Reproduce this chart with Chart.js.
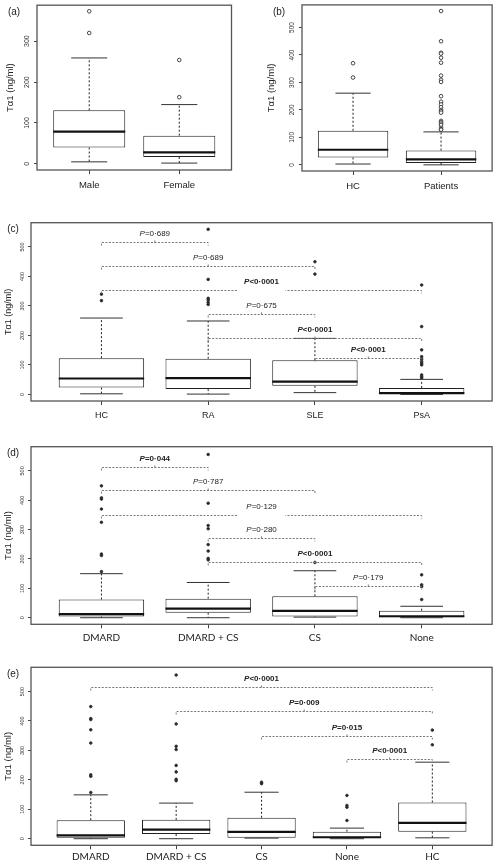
<!DOCTYPE html>
<html lang="en">
<head>
<meta charset="UTF-8">
<title>Tα1 (ng/ml) box plots</title>
<script src="https://cdn.jsdelivr.net/npm/chart.js"></script>
<style>
  body { margin: 0; background: #fff; width: 497px; height: 866px; position: relative; overflow: hidden; }
  canvas { position: absolute; }
</style>
</head>
<body>
<canvas id="chartA" width="245" height="205" style="left:0;top:0"></canvas>
<canvas id="chartB" width="249" height="205" style="left:248px;top:0"></canvas>
<canvas id="chartC" width="497" height="220" style="left:0;top:205px"></canvas>
<canvas id="chartD" width="497" height="220" style="left:0;top:425px"></canvas>
<canvas id="chartE" width="497" height="221" style="left:0;top:645px"></canvas>

<script>
const yTitle = 'Tα1 (ng/ml)';

// (a) by sex
const sexGroups = ['Male', 'Female'];
const sexQ1 = [40, 17];
const sexMedian = [79, 28];
const sexQ3 = [131, 69];
const sexLow = [5, 2];
const sexHigh = [259, 145];
const sexOutliers = [[373, 320], [254, 163]];

// (b) controls vs patients
const hcGroups = ['HC', 'Patients'];
const hcQ1 = [27, 7];
const hcMedian = [55, 20];
const hcQ3 = [124, 52];
const hcLow = [3, 0];
const hcHigh = [261, 120];
const hcOutliers = [
  [370, 318],
  [560, 450, 408, 405, 390, 372, 325, 310, 302, 250, 230, 220, 210, 200, 195, 190, 160, 155, 150, 145, 135, 130, 128]
];

// (c) by disease
const diseaseGroups = ['HC', 'RA', 'SLE', 'PsA'];
const diseaseQ1 = [23, 18, 29, 1];
const diseaseMedian = [54, 55, 43, 4];
const diseaseQ3 = [123, 121, 116, 22];
const diseaseLow = [2, 1, 6, 0];
const diseaseHigh = [259, 249, 190, 51];
const diseaseOutliers = [
  [340, 318],
  [560, 390, 326, 320, 312, 305],
  [450, 408],
  [371, 230, 151, 128, 120, 112, 106, 100, 66, 60, 56]
];
const diseaseTests = [
  { from: 0, to: 1, y: 516, p: '=0·689', bold: false },
  { from: 0, to: 2, y: 434, p: '=0·689', bold: false },
  { from: 0, to: 3, y: 353, p: '<0·0001', bold: true, gap: true },
  { from: 1, to: 2, y: 273, p: '=0·675', bold: false },
  { from: 1, to: 3, y: 190, p: '<0·0001', bold: true },
  { from: 2, to: 3, y: 122, p: '<0·0001', bold: true }
];

// (d) by treatment
const treatGroups = ['DMARD', 'DMARD + CS', 'CS', 'None'];
const treatQ1 = [4, 17, 4, 2];
const treatMedian = [12, 31, 23, 5];
const treatQ3 = [62, 65, 73, 24];
const treatLow = [0, 0, 2, 0];
const treatHigh = [150, 120, 160, 39];
const treatOutliers = [
  [449, 408, 404, 370, 325, 217, 212, 157],
  [556, 390, 314, 303, 249, 227, 202, 197],
  [188],
  [146, 112, 106, 62]
];
const treatTests = [
  { from: 0, to: 1, y: 513, p: '=0·044', bold: true },
  { from: 0, to: 2, y: 435, p: '=0·787', bold: false },
  { from: 0, to: 3, y: 350, p: '=0·129', bold: false, gap: true },
  { from: 1, to: 2, y: 272, p: '=0·280', bold: false },
  { from: 1, to: 3, y: 190, p: '<0·0001', bold: true },
  { from: 2, to: 3, y: 109, p: '=0·179', bold: false }
];

// (e) treatment vs HC
const vsGroups = ['DMARD', 'DMARD + CS', 'CS', 'None', 'HC'];
const vsQ1 = [3, 16, 3, 3, 24];
const vsMedian = [11, 31, 23, 5, 54];
const vsQ3 = [63, 64, 71, 24, 123];
const vsLow = [0, 0, 2, 0, 3];
const vsHigh = [149, 121, 158, 36, 260];
const vsOutliers = [
  [449, 408, 405, 370, 325, 217, 212, 157],
  [556, 390, 314, 303, 249, 227, 202, 197],
  [192, 187],
  [147, 113, 107, 62],
  [369, 319]
];
const vsTests = [
  { from: 0, to: 4, y: 516, p: '<0·0001', bold: true },
  { from: 1, to: 4, y: 435, p: '=0·009', bold: true },
  { from: 2, to: 4, y: 350, p: '=0·015', bold: true },
  { from: 3, to: 4, y: 271, p: '<0·0001', bold: true }
];

const smallTicks = [0, 100, 200, 300];
const bigTicks = [0, 100, 200, 300, 400, 500];

Chart.defaults.font.family = '"Liberation Sans", Arial, sans-serif';
Chart.defaults.color = '#222';

function drawP(ctx, rest, cx, cy, bold) {
  const b = bold ? 'bold ' : '';
  const fItal = b + 'italic 8px "Liberation Sans"';
  const fNorm = b + '8px "Liberation Sans"';
  ctx.font = fItal;
  const w1 = ctx.measureText('P').width;
  ctx.font = fNorm;
  const w2 = ctx.measureText(rest).width;
  const x0 = cx - (w1 + w2) / 2;
  ctx.textAlign = 'left';
  ctx.textBaseline = 'middle';
  ctx.fillStyle = '#222';
  ctx.font = fItal;
  ctx.fillText('P', x0, cy);
  ctx.font = fNorm;
  ctx.fillText(rest, x0 + w1, cy);
  return w1 + w2;
}

const boxExtras = {
  id: 'boxExtras',
  afterDatasetsDraw(chart, args, o) {
    const { ctx } = chart;
    const xs = chart.scales.x, ys = chart.scales.y;
    const bars = chart.getDatasetMeta(0).data;
    ctx.save();
    o.median.forEach((m, i) => {
      const cx = xs.getPixelForValue(i + 1);
      const half = bars[i].width / 2;
      const yQ1 = ys.getPixelForValue(o.q1[i]);
      const yQ3 = ys.getPixelForValue(o.q3[i]);
      const yLo = ys.getPixelForValue(o.low[i]);
      const yHi = ys.getPixelForValue(o.high[i]);
      // whiskers
      ctx.strokeStyle = '#222';
      ctx.lineWidth = 1;
      ctx.setLineDash([2, 2]);
      ctx.beginPath();
      ctx.moveTo(cx, yQ3); ctx.lineTo(cx, yHi);
      ctx.moveTo(cx, yQ1); ctx.lineTo(cx, yLo);
      ctx.stroke();
      ctx.setLineDash([]);
      ctx.strokeStyle = '#333';
      ctx.beginPath();
      ctx.moveTo(cx - half / 2, yHi); ctx.lineTo(cx + half / 2, yHi);
      ctx.moveTo(cx - half / 2, yLo); ctx.lineTo(cx + half / 2, yLo);
      ctx.stroke();
      // median
      ctx.strokeStyle = '#111';
      ctx.lineWidth = 2.2;
      const yM = ys.getPixelForValue(m);
      ctx.beginPath();
      ctx.moveTo(cx - half, yM); ctx.lineTo(cx + half, yM);
      ctx.stroke();
    });
    ctx.restore();
  },
  afterDraw(chart, args, o) {
    const { ctx, chartArea: a } = chart;
    const xs = chart.scales.x, ys = chart.scales.y;
    ctx.save();
    // significance brackets
    (o.tests || []).forEach(t => {
      const x1 = xs.getPixelForValue(t.from + 1);
      const x2 = xs.getPixelForValue(t.to + 1);
      const yy = Math.round(ys.getPixelForValue(t.y)) + 0.5;
      const mx = (x1 + x2) / 2;
      ctx.strokeStyle = '#777';
      ctx.lineWidth = 1;
      ctx.setLineDash([2, 1.5]);
      ctx.beginPath();
      ctx.moveTo(x1, yy + 3); ctx.lineTo(x1, yy); ctx.lineTo(x2, yy); ctx.lineTo(x2, yy + 3);
      ctx.moveTo(mx, yy); ctx.lineTo(mx, yy - 2);
      ctx.stroke();
      ctx.setLineDash([]);
      if (t.gap) {
        ctx.fillStyle = '#fff';
        ctx.fillRect(mx - 24, yy - 2.5, 48, 4);
      }
      drawP(ctx, t.p, mx, yy - 8.5, t.bold);
    });
    // frame
    ctx.strokeStyle = '#555';
    ctx.lineWidth = 1.3;
    ctx.strokeRect(a.left, a.top, a.right - a.left, a.bottom - a.top);
    // panel letter
    ctx.fillStyle = '#222';
    ctx.font = '10px "Liberation Sans"';
    ctx.textAlign = 'center';
    ctx.textBaseline = 'middle';
    ctx.fillText(o.letter, Math.max(13, a.left - 23), a.top + 7);
    ctx.restore();
  }
};

function boxChart(id, p) {
  const n = p.groups.length;
  const boxes = p.groups.map((g, i) => ({ x: i + 1, y: [p.q1[i], p.q3[i]] }));
  const dots = p.outliers.flatMap((vals, i) => vals.map(v => ({ x: i + 1, y: v })));
  return new Chart(document.getElementById(id), {
    type: 'bar',
    data: {
      datasets: [
        {
          type: 'bar',
          data: boxes,
          backgroundColor: '#fff',
          borderColor: '#222',
          borderWidth: 1,
          borderSkipped: false,
          barPercentage: 0.8,
          categoryPercentage: 1
        },
        {
          type: 'scatter',
          data: dots,
          pointRadius: p.openDots ? 1.8 : 1.3,
          pointBorderWidth: 0.9,
          pointBorderColor: '#333',
          pointBackgroundColor: p.openDots ? '#fff' : '#222'
        }
      ]
    },
    options: {
      responsive: false,
      devicePixelRatio: 1,
      animation: false,
      layout: { padding: { left: 0, top: p.area.t, right: p.w - p.area.r, bottom: 0 } },
      plugins: {
        legend: { display: false },
        tooltip: { enabled: false },
        boxExtras: {
          q1: p.q1, median: p.median, q3: p.q3, low: p.low, high: p.high,
          tests: p.tests, letter: p.letter
        }
      },
      scales: {
        x: {
          type: 'linear',
          offset: false,
          min: 0.5 - 0.04 * n,
          max: n + 0.5 + 0.04 * n,
          afterBuildTicks: s => { s.ticks = p.groups.map((g, i) => ({ value: i + 1 })); },
          afterFit: s => { s.height = p.h - p.area.b; },
          border: { display: false },
          grid: { offset: false, drawOnChartArea: false, tickLength: 4, color: '#444' },
          ticks: {
            autoSkip: false,
            maxRotation: 0,
            padding: p.labelPad,
            font: p.labelFont,
            color: '#222',
            callback: v => p.groups[v - 1] || ''
          }
        },
        y: {
          min: p.yMin,
          max: p.yMax,
          afterBuildTicks: s => { s.ticks = p.yTicks.map(v => ({ value: v })); },
          afterFit: s => { s.width = p.area.l; },
          border: { display: false },
          grid: { drawOnChartArea: false, tickLength: 3, color: '#444' },
          ticks: {
            autoSkip: false,
            minRotation: 90,
            maxRotation: 90,
            crossAlign: 'center',
            padding: 1,
            font: { size: p.tickSize },
            color: '#333'
          },
          title: {
            display: true,
            text: yTitle,
            font: { size: p.titleSize },
            color: '#222',
            padding: { top: p.titlePad, bottom: 0 }
          }
        }
      }
    },
    plugins: [boxExtras]
  });
}

boxChart('chartA', {
  letter: '(a)', w: 245, h: 205, area: { l: 37, t: 1, r: 231.5, b: 170 },
  groups: sexGroups, q1: sexQ1, median: sexMedian, q3: sexQ3, low: sexLow, high: sexHigh,
  outliers: sexOutliers, tests: [], yMin: -14.9, yMax: 387.9, yTicks: smallTicks,
  openDots: true, tickSize: 7, titleSize: 9.5, titlePad: 5,
  labelFont: { size: 9.5 }, labelPad: 6
});

boxChart('chartB', {
  letter: '(b)', w: 249, h: 205, area: { l: 54, t: 1, r: 248, b: 171 },
  groups: hcGroups, q1: hcQ1, median: hcMedian, q3: hcQ3, low: hcLow, high: hcHigh,
  outliers: hcOutliers, tests: [], yMin: -22.4, yMax: 582.4, yTicks: bigTicks,
  openDots: true, tickSize: 6.5, titleSize: 9.5, titlePad: 18,
  labelFont: { size: 9.5 }, labelPad: 6
});

boxChart('chartC', {
  letter: '(c)', w: 497, h: 220, area: { l: 31, t: 17.7, r: 494.6, b: 196 },
  groups: diseaseGroups, q1: diseaseQ1, median: diseaseMedian, q3: diseaseQ3, low: diseaseLow, high: diseaseHigh,
  outliers: diseaseOutliers, tests: diseaseTests, yMin: -22.4, yMax: 582.4, yTicks: bigTicks,
  openDots: false, tickSize: 5.5, titleSize: 9, titlePad: 3,
  labelFont: { size: 9 }, labelPad: 5
});

boxChart('chartD', {
  letter: '(d)', w: 497, h: 220, area: { l: 31, t: 21.7, r: 494.6, b: 199.3 },
  groups: treatGroups, q1: treatQ1, median: treatMedian, q3: treatQ3, low: treatLow, high: treatHigh,
  outliers: treatOutliers, tests: treatTests, yMin: -22.4, yMax: 582.4, yTicks: bigTicks,
  openDots: false, tickSize: 5.5, titleSize: 9.5, titlePad: 3,
  labelFont: { family: 'Lato', size: 10 }, labelPad: 3
});

boxChart('chartE', {
  letter: '(e)', w: 497, h: 221, area: { l: 31, t: 22.3, r: 495.5, b: 200.3 },
  groups: vsGroups, q1: vsQ1, median: vsMedian, q3: vsQ3, low: vsLow, high: vsHigh,
  outliers: vsOutliers, tests: vsTests, yMin: -22.4, yMax: 582.4, yTicks: bigTicks,
  openDots: false, tickSize: 5.5, titleSize: 9.5, titlePad: 3,
  labelFont: { family: 'Lato', size: 10 }, labelPad: 1
});
</script>
</body>
</html>
